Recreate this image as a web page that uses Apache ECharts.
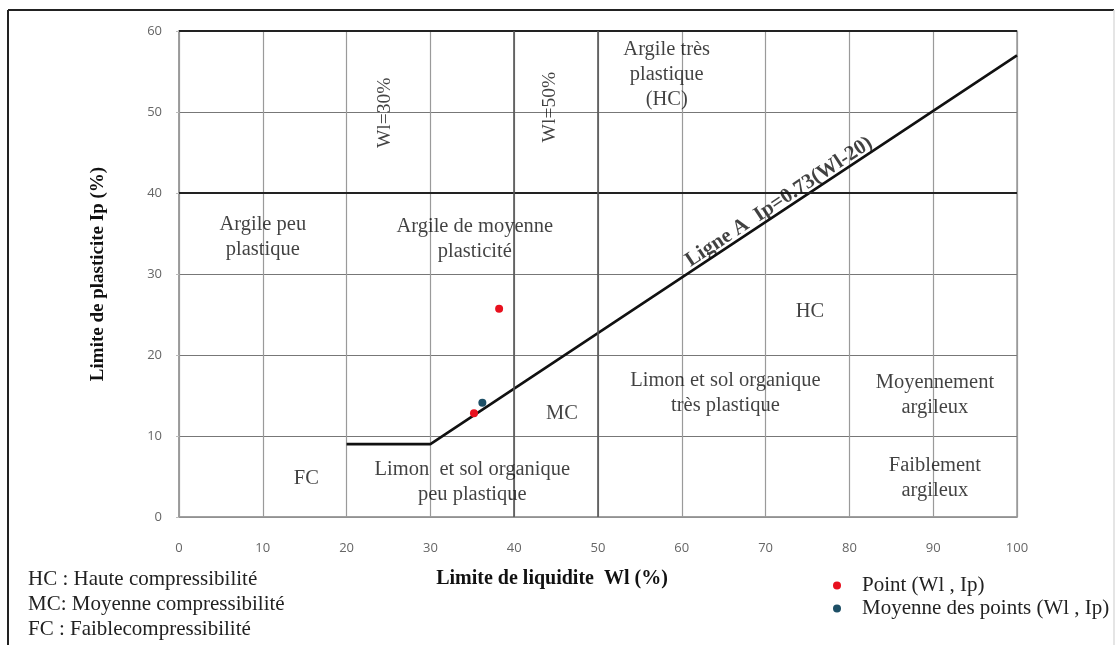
<!DOCTYPE html>
<html>
<head>
<meta charset="utf-8">
<script src="https://cdn.jsdelivr.net/npm/echarts@6/dist/echarts.min.js"></script>
<style>
  html, body { margin: 0; padding: 0; background: #fff; }
  #chart { width: 1119px; height: 645px; }
</style>
</head>
<body>
<div id="chart"></div>
<script>
// Casagrande plasticity chart: liquid limit Wl (%) vs plasticity index Ip (%)
const xRange = [0, 100];
const yRange = [0, 60];
const tickStep = 10;

// A-line: horizontal foot then Ip = 0.73 (Wl - 20)
const aLine = [[20, 9], [30, 9], [100, 57]];

// Measured samples and their mean
const samplePoints = [[38.2, 25.7], [35.2, 12.8]];
const meanPoint = [[36.2, 14.1]];

// Emphasised boundaries
const boundaryIp = [40, 60];
const boundaryWl = [40, 50];

// Zone names placed in chart units [Wl, Ip, text]
const zoneNames = [
  [10, 34.6, 'Argile peu\nplastique'],
  [35.3, 34.3, 'Argile de moyenne\nplasticité'],
  [58.2, 54.6, 'Argile très\nplastique\n(HC)'],
  [75.3, 25.3, 'HC'],
  [45.7, 12.8, 'MC'],
  [15.2, 4.7, 'FC'],
  [65.2, 15.3, 'Limon et sol organique\ntrès plastique'],
  [90.2, 15.0, 'Moyennement\nargileux'],
  [90.2, 4.8, 'Faiblement\nargileux'],
  [35.0, 4.3, 'Limon  et sol organique\npeu plastique']
];
const limitNames = [
  [24.6, 49.9, 'Wl=30%'],
  [44.2, 50.6, 'Wl=50%']
];
const aLineName = [[71.6, 38.9, 'Ligne A  Ip=0.73(Wl-20)']];

const legendNotes = [
  'HC : Haute compressibilité',
  'MC: Moyenne compressibilité',
  'FC : Faiblecompressibilité'
];

const serif = '"Liberation Serif", "Times New Roman", serif';
const sans = '"Open Sans", "Liberation Sans", sans-serif';

function textSeries(name, rows, extra) {
  return {
    name: name,
    type: 'scatter',
    silent: true,
    symbolSize: 1,
    itemStyle: { color: 'rgba(0,0,0,0)' },
    data: rows.map(r => ({ value: [r[0], r[1]], name: r[2] })),
    label: Object.assign({
      show: true,
      position: 'inside',
      formatter: p => p.name,
      color: '#111',
      fontFamily: serif,
      fontSize: 20.5,
      lineHeight: 25,
      align: 'center',
      verticalAlign: 'middle'
    }, extra || {}),
    emphasis: { disabled: true },
    z: 5
  };
}

const chart = echarts.init(document.getElementById('chart'));

chart.setOption({
  animation: false,
  backgroundColor: '#fff',
  grid: {
    left: 179, top: 31, right: 102, bottom: 128,
    show: true, borderColor: '#9a9a9a', borderWidth: 1.5
  },
  xAxis: {
    type: 'value',
    min: xRange[0], max: xRange[1], interval: tickStep,
    name: 'Limite de liquidite  Wl (%)',
    nameLocation: 'middle',
    nameGap: 52,
    nameTextStyle: { fontFamily: serif, fontWeight: 'bold', fontSize: 20, color: '#111', padding: [0, 92, 0, 0] },
    axisLine: { show: true, lineStyle: { color: '#9a9a9a', width: 1.5 } },
    axisTick: { show: false },
    axisLabel: { margin: 25, fontFamily: sans, fontSize: 13, color: '#666' },
    splitLine: { show: true, lineStyle: { color: '#9a9a9a', width: 1.2 } }
  },
  yAxis: {
    type: 'value',
    min: yRange[0], max: yRange[1], interval: tickStep,
    name: 'Limite de plasticite Ip (%)',
    nameLocation: 'middle',
    nameGap: 71,
    nameTextStyle: { fontFamily: serif, fontWeight: 'bold', fontSize: 19, color: '#111' },
    axisLine: { show: true, lineStyle: { color: '#9a9a9a', width: 1.5 } },
    axisTick: { show: true, length: 3, lineStyle: { color: '#bbb' } },
    axisLabel: { margin: 17, fontFamily: sans, fontSize: 13, color: '#666' },
    splitLine: { show: true, lineStyle: { color: '#777', width: 1.2 } }
  },
  legend: {
    orient: 'vertical',
    left: 828, top: 570,
    icon: 'circle',
    itemWidth: 8, itemHeight: 8,
    itemGap: 2,
    data: ['Point (Wl , Ip)', 'Moyenne des points (Wl , Ip)'],
    textStyle: { fontFamily: serif, fontSize: 21, color: '#222', padding: [0, 0, 0, 16] }
  },
  graphic: [
    { type: 'line', shape: { x1: 8, y1: 10, x2: 1114, y2: 10 }, style: { stroke: '#222', lineWidth: 2 } },
    { type: 'line', shape: { x1: 8, y1: 10, x2: 8, y2: 645 }, style: { stroke: '#222', lineWidth: 2 } },
    { type: 'line', shape: { x1: 1114, y1: 10, x2: 1114, y2: 645 }, style: { stroke: '#ddd', lineWidth: 1.5 } }
  ].concat(legendNotes.map((t, i) => ({
    type: 'text', left: 28, top: 569 + i * 25,
    style: { text: t, font: '21px ' + serif, fill: '#222' }
  }))),
  series: [
    {
      name: 'boundaries',
      type: 'line',
      data: [],
      silent: true,
      markLine: {
        silent: true,
        symbol: 'none',
        label: { show: false },
        data: boundaryIp.map(v => ({ yAxis: v, lineStyle: { color: '#222', width: 2.2, type: 'solid' } }))
          .concat(boundaryWl.map(v => ({ xAxis: v, lineStyle: { color: '#555', width: 1.6, type: 'solid' } })))
      },
      z: 2
    },
    {
      name: 'Ligne A',
      type: 'line',
      data: aLine,
      symbol: 'none',
      silent: true,
      lineStyle: { color: '#111', width: 2.6 },
      z: 3
    },
    {
      name: 'Point (Wl , Ip)',
      type: 'scatter',
      data: samplePoints,
      symbolSize: 8,
      itemStyle: { color: '#e8101e', opacity: 1 },
      z: 6
    },
    {
      name: 'Moyenne des points (Wl , Ip)',
      type: 'scatter',
      data: meanPoint,
      symbolSize: 8,
      itemStyle: { color: '#1d4f66', opacity: 1 },
      z: 6
    },
    textSeries('zones', zoneNames),
    textSeries('limits', limitNames, { rotate: 90, fontSize: 19.5 }),
    textSeries('aline-name', aLineName, { rotate: 33.5, fontWeight: 'bold', fontSize: 21 })
  ]
});
</script>
</body>
</html>
